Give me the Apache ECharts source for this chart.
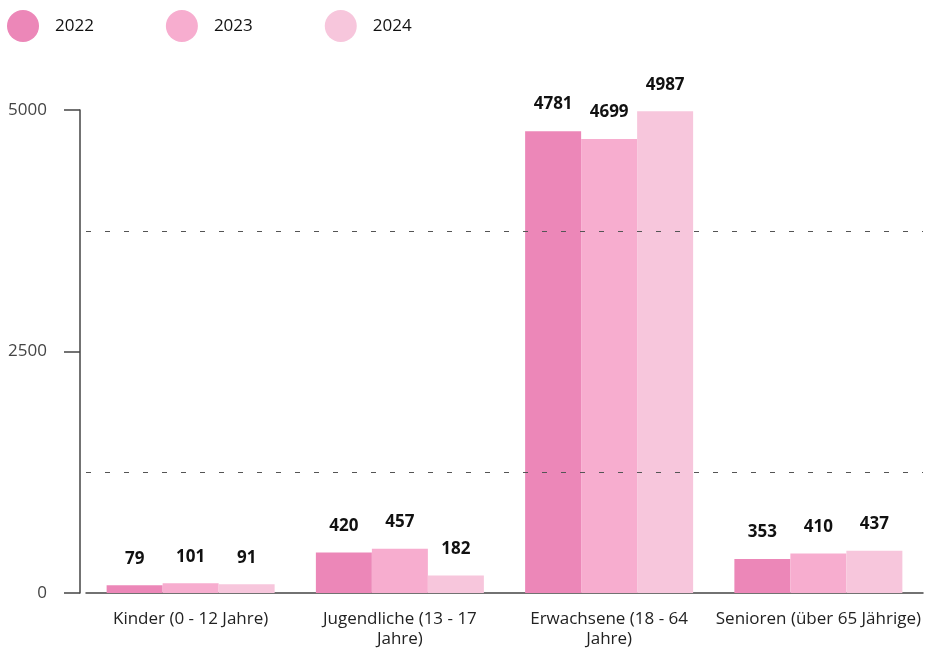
<!DOCTYPE html>
<html>
<head>
<meta charset="utf-8">
<script src="https://cdn.jsdelivr.net/npm/echarts@6/dist/echarts.min.js"></script>
<style>
  html, body { margin: 0; padding: 0; background: #fff; }
  #chart { width: 927px; height: 650px; }
</style>
</head>
<body>
<div id="chart"></div>
<script>
var categories = ['Kinder (0 - 12 Jahre)', 'Jugendliche (13 - 17 Jahre)', 'Erwachsene (18 - 64 Jahre)', 'Senioren (über 65 Jährige)'];
var years = ['2022', '2023', '2024'];
var values2022 = [79, 420, 4781, 353];
var values2023 = [101, 457, 4699, 410];
var values2024 = [91, 182, 4987, 437];
var colors = ['#ec87b8', '#f7adcf', '#f7c6dc'];

var font = 'Open Sans';

function makeSeries(name, data, color) {
    return {
        name: name,
        type: 'bar',
        data: data,
        barWidth: 56,
        barGap: '0%',
        itemStyle: { color: color },
        label: {
            show: true,
            position: 'top',
            distance: 18,
            color: '#111',
            fontFamily: font,
            fontWeight: 'bold',
            fontSize: 17
        }
    };
}

var chart = echarts.init(document.getElementById('chart'));
chart.setOption({
    backgroundColor: '#fff',
    animation: false,
    legend: {
        left: 7,
        top: 10,
        padding: 0,
        icon: 'circle',
        itemWidth: 32,
        itemHeight: 32,
        itemGap: 72,
        textStyle: {
            fontFamily: font,
            fontSize: 17,
            color: '#111',
            padding: [0, 0, 0, 11]
        },
        data: years
    },
    grid: { left: 86, right: 4, top: 110, bottom: 57 },
    xAxis: {
        type: 'category',
        data: categories,
        axisLine: { lineStyle: { color: '#444', width: 1.5 } },
        axisTick: { show: false },
        axisLabel: {
            interval: 0,
            margin: 16,
            color: '#222',
            fontFamily: font,
            fontSize: 17,
            lineHeight: 20,
            formatter: function (v) {
                // die langen Namen umbrechen
                if (v.indexOf('Jahre)') > -1 && v.length > 22) {
                    return v.replace(' Jahre)', '\nJahre)');
                }
                return v;
            }
        }
    },
    yAxis: [{
        type: 'value',
        min: 0,
        max: 5000,
        interval: 2500,
        offset: 6,
        axisLine: { show: true, lineStyle: { color: '#444', width: 1.5 } },
        axisTick: { show: true, length: 16, lineStyle: { color: '#444', width: 1.5 } },
        axisLabel: {
            margin: 33,
            color: '#444',
            fontFamily: font,
            fontSize: 17,
            formatter: function (v) { return String(v); }
        },
        splitLine: { show: false }
    }, {
        type: 'value',
        min: 0,
        max: 5000,
        interval: 1250,
        z: 10,
        axisLine: { show: false },
        axisTick: { show: false },
        axisLabel: { show: false },
        splitLine: {
            show: true,
            lineStyle: { color: ['transparent', '#555'], type: [5, 14], width: 1 }
        }
    }],
    series: [
        makeSeries(years[0], values2022, colors[0]),
        makeSeries(years[1], values2023, colors[1]),
        makeSeries(years[2], values2024, colors[2])
    ]
});
</script>
</body>
</html>
